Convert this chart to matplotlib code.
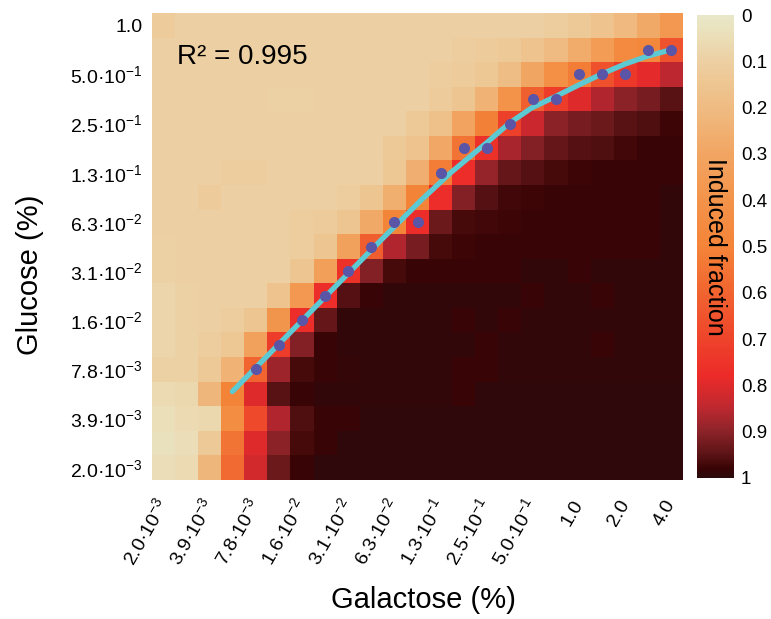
import numpy as np
import matplotlib
matplotlib.use('Agg')
import matplotlib.pyplot as plt
from matplotlib.colors import LinearSegmentedColormap

plt.rcParams['font.family'] = ['Liberation Sans', 'DejaVu Sans']
plt.rcParams['mathtext.fontset'] = 'custom'
plt.rcParams['mathtext.rm'] = 'Liberation Sans'
plt.rcParams['mathtext.it'] = 'Liberation Sans:italic'
plt.rcParams['mathtext.bf'] = 'Liberation Sans:bold'

# galactose columns (low -> high), glucose rows (high -> low)
gal_labels = ['2.0·10$^{-3}$', '3.9·10$^{-3}$', '7.8·10$^{-3}$', '1.6·10$^{-2}$',
              '3.1·10$^{-2}$', '6.3·10$^{-2}$', '1.3·10$^{-1}$', '2.5·10$^{-1}$',
              '5.0·10$^{-1}$', '1.0', '2.0', '4.0']
glu_labels = ['1.0', '5.0·10$^{-1}$', '2.5·10$^{-1}$', '1.3·10$^{-1}$', '6.3·10$^{-2}$',
              '3.1·10$^{-2}$', '1.6·10$^{-2}$', '7.8·10$^{-3}$', '3.9·10$^{-3}$', '2.0·10$^{-3}$']

# induced fraction, 19 glucose rows x 23 galactose columns
induced = [
    [0.12, 0.10, 0.10, 0.10, 0.10, 0.10, 0.10, 0.10, 0.10, 0.10, 0.10, 0.10, 0.10, 0.10, 0.10, 0.10, 0.10, 0.11, 0.13, 0.16, 0.21, 0.28, 0.37],
    [0.10, 0.10, 0.10, 0.10, 0.10, 0.10, 0.10, 0.10, 0.10, 0.10, 0.10, 0.10, 0.10, 0.11, 0.12, 0.13, 0.16, 0.20, 0.27, 0.35, 0.46, 0.48, 0.65],
    [0.10, 0.10, 0.10, 0.10, 0.10, 0.10, 0.10, 0.10, 0.10, 0.10, 0.10, 0.10, 0.11, 0.12, 0.14, 0.19, 0.30, 0.42, 0.52, 0.66, 0.74, 0.79, 0.85],
    [0.10, 0.10, 0.10, 0.10, 0.10, 0.09, 0.09, 0.10, 0.10, 0.10, 0.10, 0.10, 0.12, 0.15, 0.24, 0.40, 0.61, 0.72, 0.80, 0.86, 0.90, 0.92, 0.95],
    [0.10, 0.10, 0.10, 0.10, 0.10, 0.10, 0.10, 0.10, 0.10, 0.10, 0.10, 0.13, 0.17, 0.31, 0.51, 0.71, 0.83, 0.90, 0.92, 0.93, 0.95, 0.96, 0.975],
    [0.10, 0.10, 0.10, 0.10, 0.10, 0.10, 0.10, 0.10, 0.10, 0.10, 0.13, 0.16, 0.29, 0.55, 0.76, 0.87, 0.91, 0.94, 0.955, 0.96, 0.97, 0.98, 0.98],
    [0.10, 0.10, 0.10, 0.11, 0.11, 0.10, 0.10, 0.10, 0.10, 0.10, 0.14, 0.25, 0.52, 0.77, 0.89, 0.94, 0.955, 0.965, 0.975, 0.98, 0.98, 0.98, 0.98],
    [0.10, 0.10, 0.12, 0.10, 0.10, 0.10, 0.10, 0.10, 0.11, 0.15, 0.26, 0.50, 0.77, 0.91, 0.955, 0.97, 0.975, 0.98, 0.98, 0.98, 0.98, 0.98, 0.99],
    [0.10, 0.10, 0.10, 0.10, 0.10, 0.10, 0.11, 0.12, 0.15, 0.28, 0.49, 0.77, 0.93, 0.965, 0.97, 0.975, 0.98, 0.98, 0.98, 0.98, 0.98, 0.98, 0.99],
    [0.09, 0.10, 0.10, 0.10, 0.10, 0.10, 0.11, 0.15, 0.32, 0.62, 0.86, 0.92, 0.965, 0.975, 0.98, 0.98, 0.98, 0.98, 0.98, 0.98, 0.98, 0.98, 0.99],
    [0.09, 0.10, 0.10, 0.10, 0.10, 0.10, 0.15, 0.33, 0.76, 0.91, 0.965, 0.98, 0.98, 0.98, 0.98, 0.98, 0.99, 0.99, 0.98, 0.99, 0.99, 0.99, 0.99],
    [0.08, 0.09, 0.10, 0.10, 0.10, 0.16, 0.37, 0.77, 0.955, 0.98, 0.99, 0.99, 0.99, 0.99, 0.99, 0.99, 0.98, 0.99, 0.99, 0.98, 0.99, 0.99, 0.99],
    [0.08, 0.09, 0.10, 0.11, 0.15, 0.39, 0.77, 0.94, 0.99, 0.99, 0.99, 0.99, 0.99, 0.98, 0.99, 0.98, 0.99, 0.99, 0.99, 0.99, 0.99, 0.99, 0.99],
    [0.08, 0.09, 0.11, 0.14, 0.32, 0.72, 0.91, 0.98, 0.99, 0.99, 0.99, 0.99, 0.99, 0.99, 0.98, 0.99, 0.99, 0.99, 0.99, 0.98, 0.99, 0.99, 0.99],
    [0.09, 0.09, 0.13, 0.24, 0.60, 0.88, 0.965, 0.98, 0.985, 0.99, 0.99, 0.99, 0.99, 0.98, 0.98, 0.99, 0.99, 0.99, 0.99, 0.99, 0.99, 0.99, 0.99],
    [0.06, 0.07, 0.22, 0.50, 0.80, 0.95, 0.98, 0.99, 0.99, 0.99, 0.99, 0.99, 0.99, 0.98, 0.995, 0.995, 0.995, 0.995, 0.995, 0.995, 0.995, 0.995, 0.995],
    [0.04, 0.06, 0.07, 0.44, 0.68, 0.86, 0.96, 0.98, 0.98, 0.995, 0.995, 0.995, 0.995, 0.995, 0.995, 0.995, 0.995, 0.995, 0.995, 0.995, 0.995, 0.995, 0.995],
    [0.03, 0.05, 0.13, 0.55, 0.80, 0.90, 0.965, 0.98, 0.995, 0.995, 0.995, 0.995, 0.995, 0.995, 0.995, 0.995, 0.995, 0.995, 0.995, 0.995, 0.995, 0.995, 0.995],
    [0.05, 0.06, 0.22, 0.58, 0.82, 0.93, 0.98, 0.995, 0.995, 0.995, 0.995, 0.995, 0.995, 0.995, 0.995, 0.995, 0.995, 0.995, 0.995, 0.995, 0.995, 0.995, 0.995],
]

# half-induction points (column index, row index)
dot_cols = [4, 5, 6, 7, 8, 9, 10, 11, 12, 13, 14, 15, 16, 17, 18, 19, 20, 21, 22]
dot_rows = [14, 13, 12, 11, 10, 9, 8, 8, 6, 5, 5, 4, 3, 3, 2, 2, 2, 1, 1]

# fitted curve (column index, row index)
fit_cols = [2.98, 5.07, 7.24, 9.41, 11.15, 12.46, 13.98, 14.98, 15.93, 16.93, 17.98, 18.98, 19.98, 20.98, 21.93]
fit_rows = [14.90, 12.90, 10.82, 8.75, 7.12, 5.98, 4.79, 3.98, 3.37, 2.92, 2.43, 1.98, 1.58, 1.25, 1.01]

cbar_ticks = [0, 0.1, 0.2, 0.3, 0.4, 0.5, 0.6, 0.7, 0.8, 0.9, 1]

cmap = LinearSegmentedColormap.from_list('induced', [
    (0.0, '#E8E8C8'), (0.05, '#EBDDB6'), (0.1, '#EDCFA2'), (0.15, '#EEC590'),
    (0.2, '#EFBB82'), (0.3, '#F2A562'), (0.4, '#F3934A'), (0.5, '#F48438'),
    (0.6, '#F16430'), (0.7, '#EE442B'), (0.78, '#EC2B29'), (0.85, '#BE2830'),
    (0.9, '#8C2329'), (0.95, '#5C1416'), (0.98, '#3A0405'), (1.0, '#2C0A0C')])

fig = plt.figure(figsize=(7.71, 6.19), dpi=100)
ax = fig.add_axes([152/771, 1 - 480/619, 531/771, 467/619])
im = ax.imshow(np.array(induced), cmap=cmap, vmin=0, vmax=1, aspect='auto',
               interpolation='nearest')
ax.plot(fit_cols, fit_rows, color='#5CC9D3', lw=3.8, solid_capstyle='round', zorder=3)
ax.plot(dot_cols, dot_rows, 'o', color='#5A55A6', ms=8, mec='none', zorder=4)

ax.set_xlim(-0.5, 22.5)
ax.set_ylim(18.5, -0.5)
ax.set_xticks(range(0, 23, 2))
ax.set_xticklabels(gal_labels, rotation=60, ha='right', va='center', rotation_mode='anchor')
ax.set_yticks(range(0, 19, 2))
ax.set_yticklabels(glu_labels)
ax.tick_params(length=0, labelsize=14)
ax.tick_params(axis='y', pad=7)
ax.tick_params(axis='x', pad=15)
for s in ax.spines.values():
    s.set_visible(False)

ax.text(0.59, 1.29, 'R² = 0.995', fontsize=20, ha='left', va='center')

fig.text(423/771, 1 - 600/619, 'Galactose (%)', fontsize=21, ha='center', va='center')
fig.text(30/771, 1 - 275/619, 'Glucose (%)', fontsize=21, ha='center', va='center', rotation=90)

cax = fig.add_axes([697/771, 1 - 478/619, 37/771, 463/619])
cb = fig.colorbar(im, cax=cax, ticks=cbar_ticks)
cb.ax.set_yticklabels(['0', '0.1', '0.2', '0.3', '0.4', '0.5', '0.6', '0.7', '0.8', '0.9', '1'])
cb.ax.invert_yaxis()
cb.outline.set_visible(False)
cb.ax.tick_params(length=0, pad=5, labelsize=13.5)
cb.ax.text(0.5, 0.5, 'Induced fraction', rotation=270, transform=cb.ax.transAxes,
           ha='center', va='center', fontsize=18)

fig.savefig('out.png', dpi=100)
